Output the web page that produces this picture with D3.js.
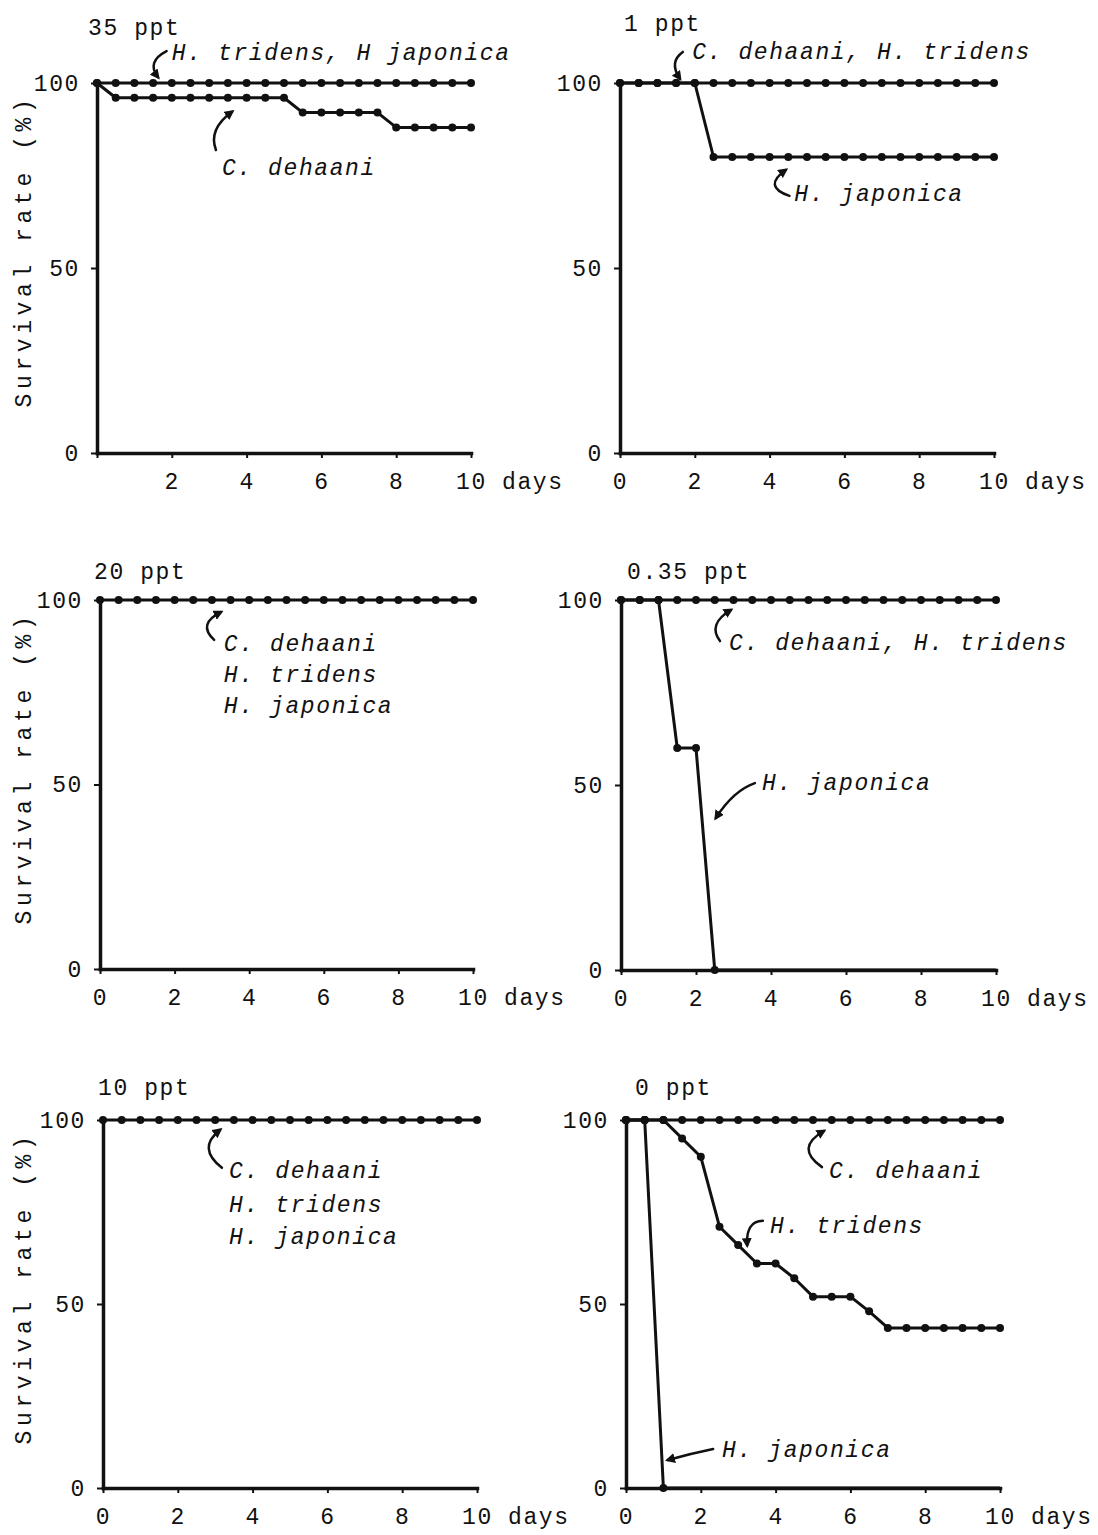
<!DOCTYPE html>
<html>
<head>
<meta charset="utf-8">
<script src="https://cdn.jsdelivr.net/npm/d3@7"></script>
<style>
  body { margin: 0; background: #fff; }
  text { font-family: "Liberation Mono", "DejaVu Sans Mono", monospace; font-size: 23px; letter-spacing: 1.6px; fill: #111; }
  text.sp { font-style: italic; }
</style>
</head>
<body>
<svg id="fig" width="1098" height="1535"></svg>
<script>
// observation times (days)
var days = [0, 0.5, 1, 1.5, 2, 2.5, 3, 3.5, 4, 4.5, 5, 5.5, 6, 6.5, 7, 7.5, 8, 8.5, 9, 9.5, 10];
var xTicks = [0, 2, 4, 6, 8, 10];
var yTicks = [0, 50, 100];

// 35 ppt
var ppt35_tridensJaponica = [100, 100, 100, 100, 100, 100, 100, 100, 100, 100, 100, 100, 100, 100, 100, 100, 100, 100, 100, 100, 100];
var ppt35_dehaani = [100, 96, 96, 96, 96, 96, 96, 96, 96, 96, 96, 92, 92, 92, 92, 92, 88, 88, 88, 88, 88];
// 1 ppt
var ppt1_dehaaniTridens = [100, 100, 100, 100, 100, 100, 100, 100, 100, 100, 100, 100, 100, 100, 100, 100, 100, 100, 100, 100, 100];
var ppt1_japonica = [100, 100, 100, 100, 100, 80, 80, 80, 80, 80, 80, 80, 80, 80, 80, 80, 80, 80, 80, 80, 80];
// 20 ppt
var ppt20_all = [100, 100, 100, 100, 100, 100, 100, 100, 100, 100, 100, 100, 100, 100, 100, 100, 100, 100, 100, 100, 100];
// 0.35 ppt
var ppt035_dehaaniTridens = [100, 100, 100, 100, 100, 100, 100, 100, 100, 100, 100, 100, 100, 100, 100, 100, 100, 100, 100, 100, 100];
var ppt035_japonicaDays = [0, 0.5, 1, 1.5, 2, 2.5, 10];
var ppt035_japonica = [100, 100, 100, 60, 60, 0, 0];
// 10 ppt
var ppt10_all = [100, 100, 100, 100, 100, 100, 100, 100, 100, 100, 100, 100, 100, 100, 100, 100, 100, 100, 100, 100, 100];
// 0 ppt
var ppt0_dehaani = [100, 100, 100, 100, 100, 100, 100, 100, 100, 100, 100, 100, 100, 100, 100, 100, 100, 100, 100, 100, 100];
var ppt0_tridens = [100, 100, 100, 95, 90, 71, 66, 61, 61, 57, 52, 52, 52, 48, 43.5, 43.5, 43.5, 43.5, 43.5, 43.5, 43.5];
var ppt0_japonicaDays = [0, 0.5, 1, 10];
var ppt0_japonica = [100, 100, 0, 0];

// species labels: text, start [day, %]
var labels35 = [["H. tridens, H japonica", 2.0, 106.2], ["C. dehaani", 3.34, 75.1]];
var labels1 = [["C. dehaani, H. tridens", 1.93, 106.5], ["H. japonica", 4.66, 68]];
var labels20 = [["C. dehaani", 3.32, 86.2], ["H. tridens", 3.32, 77.8], ["H. japonica", 3.32, 69.4]];
var labels035 = [["C. dehaani, H. tridens", 2.88, 86.5], ["H. japonica", 3.76, 48.6]];
var labels10 = [["C. dehaani", 3.37, 84.2], ["H. tridens", 3.37, 75], ["H. japonica", 3.37, 66.3]];
var labels0 = [["C. dehaani", 5.43, 84.2], ["H. tridens", 3.85, 69.3], ["H. japonica", 2.57, 8.4]];

// pointer arrows: start, bend, tip as [day, %]
var arrows35 = [[[1.86, 108.6], [1.31, 105.7], [1.63, 101.6]], [[3.18, 81.9], [2.97, 87.5], [3.61, 92.2]]];
var arrows1 = [[[1.68, 108.4], [1.3, 105.7], [1.6, 101.2]], [[4.53, 69.5], [3.8, 72], [4.43, 76.5]]];
var arrows20 = [[[3.06, 89.2], [2.6, 93.5], [3.24, 96.7]]];
var arrows035 = [[[2.64, 88.9], [2.3, 93.5], [2.93, 97.3]], [[3.57, 50.5], [3.0, 48.5], [2.53, 41.1]]];
var arrows10 = [[[3.18, 87], [2.5, 92.4], [3.13, 97.3]]];
var arrows0 = [[[5.24, 87.2], [4.5, 92.4], [5.29, 97]], [[3.66, 72.6], [3.2, 72.5], [3.24, 66]], [[2.33, 10.6], [1.7, 9.3], [1.12, 7.6]]];

var panels = [
  { title: "35 ppt", tx: 88, ty: 35, x0: 97, x1: 471, yTop: 83, yBot: 453, zeroLabel: false, yLabel: true,
    series: [{ d: days, v: ppt35_tridensJaponica }, { d: days, v: ppt35_dehaani }], labels: labels35, arrows: arrows35 },
  { title: "1 ppt", tx: 624, ty: 31, x0: 620, x1: 994, yTop: 83, yBot: 453, zeroLabel: true, yLabel: false,
    series: [{ d: days, v: ppt1_dehaaniTridens }, { d: days, v: ppt1_japonica }], labels: labels1, arrows: arrows1 },
  { title: "20 ppt", tx: 94, ty: 579, x0: 100, x1: 473, yTop: 600, yBot: 969, zeroLabel: true, yLabel: true,
    series: [{ d: days, v: ppt20_all }], labels: labels20, arrows: arrows20 },
  { title: "0.35 ppt", tx: 627, ty: 579, x0: 621, x1: 996, yTop: 600, yBot: 970, zeroLabel: true, yLabel: false,
    series: [{ d: days, v: ppt035_dehaaniTridens }, { d: ppt035_japonicaDays, v: ppt035_japonica }], labels: labels035, arrows: arrows035 },
  { title: "10 ppt", tx: 98, ty: 1095, x0: 103, x1: 477, yTop: 1120, yBot: 1488, zeroLabel: true, yLabel: true,
    series: [{ d: days, v: ppt10_all }], labels: labels10, arrows: arrows10 },
  { title: "0 ppt", tx: 635, ty: 1095, x0: 626, x1: 1000, yTop: 1120, yBot: 1488, zeroLabel: true, yLabel: false,
    series: [{ d: days, v: ppt0_dehaani }, { d: days, v: ppt0_tridens }, { d: ppt0_japonicaDays, v: ppt0_japonica }], labels: labels0, arrows: arrows0 }
];

var ink = "#111";
var svg = d3.select("#fig");
svg.append("rect").attr("width", 1098).attr("height", 1535).attr("fill", "#fff");

svg.append("defs").append("marker")
  .attr("id", "head")
  .attr("viewBox", "0 0 10 10")
  .attr("refX", 7).attr("refY", 5)
  .attr("markerWidth", 4).attr("markerHeight", 4)
  .attr("orient", "auto")
  .append("path").attr("d", "M0,0 L10,5 L0,10 z").attr("fill", ink);

function drawPanel(p) {
  var x = d3.scaleLinear().domain([0, 10]).range([p.x0, p.x1]);
  var y = d3.scaleLinear().domain([0, 100]).range([p.yBot, p.yTop]);
  var g = svg.append("g");

  var line = d3.line().x(function(d) { return x(d[0]); }).y(function(d) { return y(d[1]); });

  p.series.forEach(function(s) {
    var pts = s.d.map(function(d, i) { return [d, s.v[i]]; });
    g.append("path")
      .attr("d", line(pts))
      .attr("fill", "none")
      .attr("stroke", ink)
      .attr("stroke-width", 3)
      .attr("stroke-linejoin", "round");
    // last point on the zero line at day 10 has no marker
    g.selectAll(null)
      .data(pts.filter(function(d) { return !(d[0] === 10 && d[1] === 0); }))
      .enter().append("circle")
      .attr("cx", function(d) { return x(d[0]); })
      .attr("cy", function(d) { return y(d[1]); })
      .attr("r", 4)
      .attr("fill", ink);
  });

  // axes
  var xAxis = d3.axisBottom(x).tickValues(xTicks).tickSize(5).tickSizeOuter(0).tickPadding(15)
    .tickFormat(function(d) { return (d === 0 && !p.zeroLabel) ? "" : d; });
  var yAxis = d3.axisLeft(y).tickValues(yTicks).tickSize(6).tickSizeOuter(0).tickPadding(11);

  var gx = g.append("g").attr("transform", "translate(0," + p.yBot + ")").call(xAxis);
  var gy = g.append("g").attr("transform", "translate(" + p.x0 + ",0)").call(yAxis);
  [gx, gy].forEach(function(a) {
    a.select(".domain").attr("stroke", ink).attr("stroke-width", 3.5).attr("stroke-linecap", "square");
    a.selectAll(".tick line").attr("stroke", ink).attr("stroke-width", 2);
    a.attr("font-size", null).attr("font-family", null);
  });

  g.append("text").attr("x", x(10) + 31).attr("y", p.yBot + 36).text("days");

  g.append("text").attr("x", p.tx).attr("y", p.ty).text(p.title);

  if (p.yLabel) {
    g.append("text")
      .attr("transform", "translate(31," + (p.yTop + 168) + ") rotate(-90)")
      .attr("text-anchor", "middle")
      .style("letter-spacing", "4.6px")
      .text("Survival rate (%)");
  }

  p.labels.forEach(function(l) {
    g.append("text").attr("class", "sp").attr("x", x(l[1])).attr("y", y(l[2])).text(l[0]);
  });

  p.arrows.forEach(function(a) {
    var path = d3.path();
    path.moveTo(x(a[0][0]), y(a[0][1]));
    path.quadraticCurveTo(x(a[1][0]), y(a[1][1]), x(a[2][0]), y(a[2][1]));
    g.append("path")
      .attr("d", path.toString())
      .attr("fill", "none")
      .attr("stroke", ink)
      .attr("stroke-width", 2.5)
      .attr("stroke-linecap", "round")
      .attr("marker-end", "url(#head)");
  });
}

panels.forEach(drawPanel);
</script>
</body>
</html>
